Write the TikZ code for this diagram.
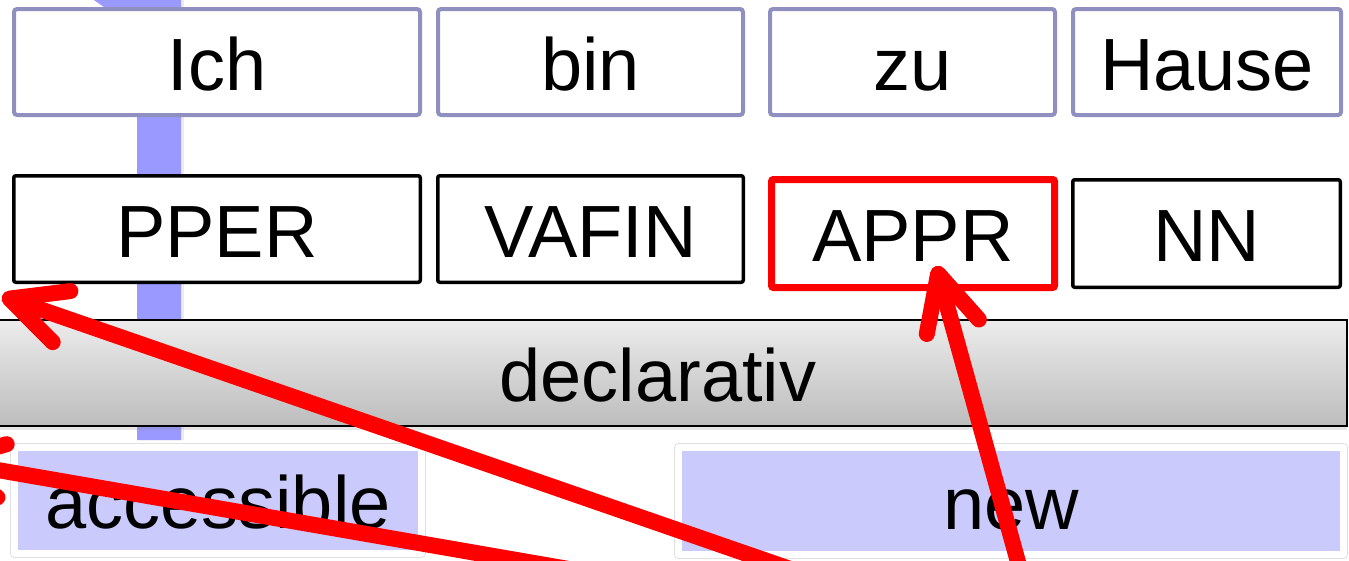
\documentclass[tikz,border=0pt]{standalone}
\usepackage{fontspec}
\setmainfont{Liberation Sans}
\usetikzlibrary{arrows.meta,shadows}

\definecolor{wordline}{RGB}{144,144,192}
\definecolor{barblue}{RGB}{153,153,255}
\definecolor{infofill}{RGB}{202,202,252}

\begin{document}
\begin{tikzpicture}[x=1pt, y=-1pt,
    every node/.style={font=\fontsize{74}{80}\selectfont, inner sep=0pt, text height=56pt, text depth=0pt},
    word/.style={draw=wordline, line width=4pt, rounded corners=3pt, fill=white, minimum height=106},
    tag/.style={draw=black, line width=3.5pt, rounded corners=2pt, fill=white, minimum height=106.5},
    mood/.style={draw=black, line width=2pt, top color=gray!15, bottom color=gray!52,
      minimum width=1378, minimum height=106,
      drop shadow={shadow xshift=0pt, shadow yshift=-4pt, opacity=0.2}},
    info/.style={draw=white, line width=7pt, line join=round, fill=infofill, minimum height=106,
      preaction={draw=black!12, line width=9pt},
      drop shadow={shadow xshift=1.5pt, shadow yshift=-2pt, opacity=0.2}},
    pointer/.style={draw=red, line width=16pt, line cap=round,
      -{Straight Barb[length=55pt, width=54pt, round]}}
  ]
  \useasboundingbox (0,0) rectangle (1349,560);
  \clip (0,0) rectangle (1349,560);

  % vertical bar behind the rows
  \fill[barblue, drop shadow={shadow xshift=3pt, shadow yshift=0pt, opacity=0.15}]
    (88,-4) -- (104,7) -- (137,7) -- (137,440) -- (181,440) -- (181,-4) -- cycle;

  % words
  \foreach \nm/\txt/\cx/\w in {ich/Ich/217/406, bin/bin/590.5/305, zu/zu/912.5/285, hause/Hause/1207/268}
    \node[word, minimum width=\w] (\nm) at (\cx,62) {\txt};

  % part of speech tags
  \node[tag, minimum width=406.5] (pper) at (217,229) {PPER};
  \node[tag, minimum width=305.5] (vafin) at (590.5,229) {VAFIN};
  \node[tag, draw=red, line width=7pt, minimum width=283, minimum height=108] (appr) at (913,233.5) {APPR};
  \node[tag, minimum width=267.5, minimum height=107.5] (nn) at (1206.5,233.5) {NN};

  \node[mood] (decl) at (658,373) {declarativ};

  \node[info, minimum width=407] (acc) at (218,500.5) {accessible};
  \node[info, minimum width=665, minimum height=107] (new) at (1011,501) {new};

  % red pointers
  \coordinate (a0) at (822,580);
  \coordinate (a1) at (2,296);
  \coordinate (b0) at (632,580);
  \coordinate (b1) at (-60,460);
  \coordinate (c0) at (1023,580);
  \coordinate (c1) at (936,266);
  \draw[pointer] (a0) -- (a1);
  \draw[pointer] (b0) -- (b1);
  \draw[pointer] (c0) -- (c1);
\end{tikzpicture}
\end{document}
